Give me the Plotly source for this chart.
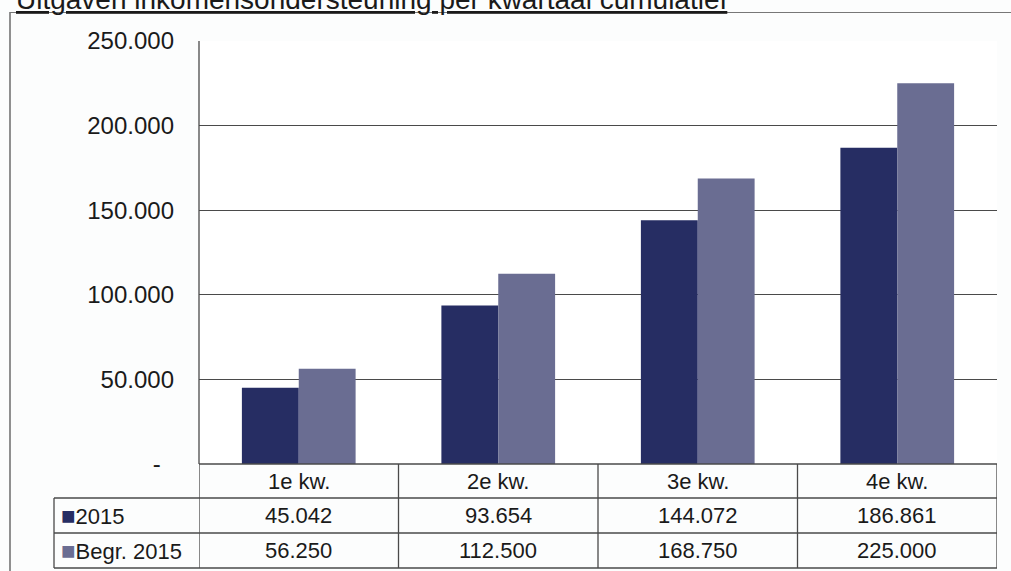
import plotly.graph_objects as go

categories = ["1e kw.", "2e kw.", "3e kw.", "4e kw."]
series_names = ["2015", "Begr. 2015"]
values_2015 = [45042, 93654, 144072, 186861]
values_begr = [56250, 112500, 168750, 225000]
colors = ["#262d63", "#6a6d92"]
tick_vals = [0, 50000, 100000, 150000, 200000, 250000]
tick_text = ["-\u00a0\u00a0", "50.000", "100.000", "150.000", "200.000", "250.000"]
title_text = "Uitgaven inkomensondersteuning per kwartaal cumulatief"

W, H = 1011, 571
L, R, T, B = 199, 14, 41, 107
PW, PH = W - L - R, H - T - B


def px_x(px):
    return (px - L) / PW


def px_y(py):
    return (T + PH - py) / PH


def fmt(v):
    return f"{v:,}".replace(",", ".")


fig = go.Figure()
all_series = [values_2015, values_begr]
for name, vals, col in zip(series_names, all_series, colors):
    fig.add_trace(go.Bar(x=categories, y=vals, name=name, marker_color=col,
                         marker_line_width=0))

font_main = "Arial, Liberation Sans, sans-serif"
line_col = "#4a4a4a"
shapes = []
annotations = []

# table row boundaries (pixel rows of table)
row_edges = [464, 498, 533, 568]
ry = [px_y(v) for v in row_edges]
left_col = px_x(54)

# horizontal table lines
for yv in ry[1:]:
    shapes.append(dict(type="line", xref="paper", yref="paper", x0=left_col, x1=1,
                       y0=yv, y1=yv, line=dict(color=line_col, width=1.3)))
shapes.append(dict(type="line", xref="paper", yref="paper", x0=0, x1=1,
                   y0=0, y1=0, line=dict(color=line_col, width=1.3)))
# vertical table lines at category boundaries
for i in range(len(categories) + 1):
    shapes.append(dict(type="line", xref="x", yref="paper", x0=i - 0.5, x1=i - 0.5,
                       y0=ry[0], y1=ry[3], line=dict(color=line_col, width=1.3)))
shapes.append(dict(type="line", xref="paper", yref="paper", x0=left_col, x1=left_col,
                   y0=ry[1], y1=ry[3], line=dict(color=line_col, width=1.3)))
# plot left border
shapes.append(dict(type="line", xref="paper", yref="paper", x0=0, x1=0,
                   y0=0, y1=1, line=dict(color=line_col, width=1.3)))
# outer frame
shapes.append(dict(type="line", xref="paper", yref="paper", x0=px_x(10), x1=px_x(10),
                   y0=px_y(12), y1=px_y(600), line=dict(color="#555555", width=1.3)))
shapes.append(dict(type="line", xref="paper", yref="paper", x0=px_x(10), x1=px_x(1020),
                   y0=px_y(12.5), y1=px_y(12.5), line=dict(color="#777777", width=1)))

# header row
hy = (ry[0] + ry[1]) / 2
for i, c in enumerate(categories):
    annotations.append(dict(x=c, xref="x", y=hy, yref="paper", yanchor="middle",
                            text=c, showarrow=False,
                            font=dict(size=22, color="#1a1a1a", family=font_main)))
# value rows
for r, (name, vals, col) in enumerate(zip(series_names, all_series, colors)):
    yy = (ry[r + 1] + ry[r + 2]) / 2
    annotations.append(dict(x=px_x(59), xref="paper", y=yy, yref="paper", xanchor="left",
                            yanchor="middle",
                            text=f"<span style='color:{col};font-size:24px'>■</span>{name}",
                            showarrow=False,
                            font=dict(size=22, color="#1a1a1a", family=font_main)))
    for c, v in zip(categories, vals):
        annotations.append(dict(x=c, xref="x", y=yy, yref="paper", yanchor="middle",
                                text=fmt(v), showarrow=False,
                                font=dict(size=22, color="#1a1a1a", family=font_main)))

# title (partially cut off at top)
annotations.append(dict(x=px_x(14), xref="paper", y=px_y(17), yref="paper",
                        xanchor="left", yanchor="bottom", text=f"<u>{title_text}</u>",
                        showarrow=False,
                        font=dict(size=28, color="#1a1a1a", family=font_main)))

fig.update_layout(
    width=W, height=H,
    margin=dict(l=L, r=R, t=T, b=B, pad=0),
    paper_bgcolor="#fcfdfd", plot_bgcolor="#ffffff",
    barmode="group", bargap=0.43, bargroupgap=0,
    showlegend=False,
    shapes=shapes, annotations=annotations,
    font=dict(family=font_main, color="#1a1a1a"),
)
fig.update_xaxes(showticklabels=False, showgrid=False, zeroline=False, showline=False,
                 range=[-0.5, len(categories) - 0.5])
fig.update_yaxes(range=[0, 250000], tickvals=tick_vals, ticktext=tick_text,
                 showgrid=True, gridcolor=line_col, gridwidth=1.3, zeroline=False,
                 showline=False, ticks="", ticklabelstandoff=24,
                 tickfont=dict(size=24, color="#1a1a1a", family=font_main))

fig.write_html("out.html", config={"displayModeBar": False},
               post_script="document.body.style.margin='0';")
